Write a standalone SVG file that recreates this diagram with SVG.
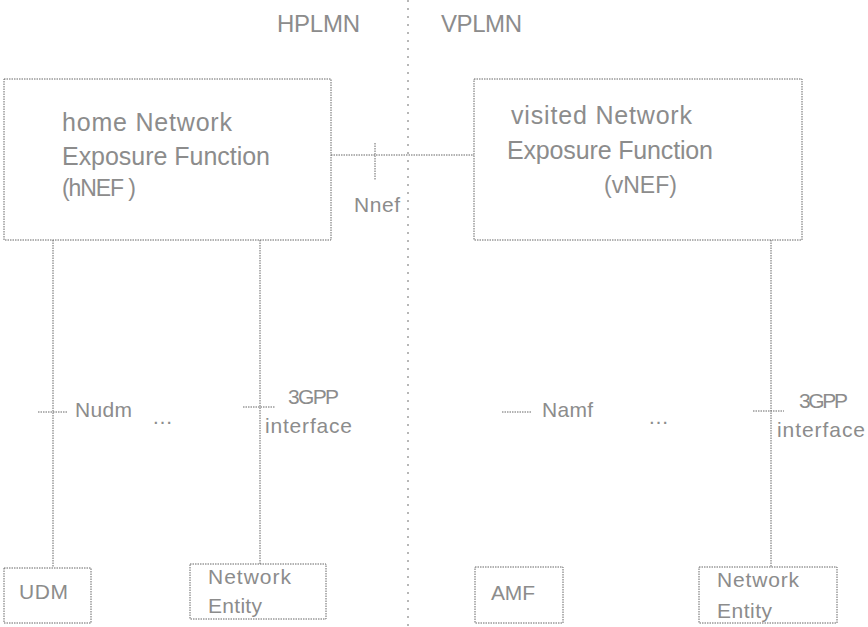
<svg xmlns="http://www.w3.org/2000/svg" width="868" height="627" viewBox="0 0 868 627">
<style>
.box{fill:#fff;stroke:#666;stroke-width:1;stroke-dasharray:1.5 1}
.ln{fill:none;stroke:#666;stroke-width:1;stroke-dasharray:1.5 1}
.div{fill:none;stroke:#888;stroke-width:1.2;stroke-dasharray:2 6}
.t{font-family:"Liberation Sans",Arial,sans-serif;fill:#8c8c8c}
.big{font-size:25px}
.par{font-size:23px}
.hd{font-size:24px}
.md{font-size:21px}
</style>
<rect width="868" height="627" fill="#fff"/>
<g id="labels-plmn">
<text class="t hd" x="277" y="32" textLength="83">HPLMN</text>
<text class="t hd" x="441" y="32" textLength="81">VPLMN</text>
</g>
<g id="connectors">
<line class="div" x1="408" y1="0" x2="408" y2="627"/>
<line class="ln" x1="331" y1="155" x2="474" y2="155"/>
<line class="ln" x1="375" y1="143" x2="375" y2="180"/>
<line class="ln" x1="53" y1="240" x2="53" y2="567"/>
<line class="ln" x1="38" y1="412" x2="68" y2="412"/>
<line class="ln" x1="260" y1="240" x2="260" y2="564"/>
<line class="ln" x1="243" y1="407" x2="275" y2="407"/>
<line class="ln" x1="502" y1="412" x2="532" y2="412"/>
<line class="ln" x1="771" y1="240" x2="771" y2="567"/>
<line class="ln" x1="753" y1="411" x2="784" y2="411"/>
<text class="t md" x="354" y="212" textLength="46">Nnef</text>
<text class="t md" x="75" y="417" textLength="57">Nudm</text>
<text class="t md" x="152" y="424" textLength="21">…</text>
<text class="t md" x="288" y="404" textLength="51">3GPP</text>
<text class="t md" x="265" y="433" textLength="87">interface</text>
<text class="t md" x="542" y="417" textLength="51">Namf</text>
<text class="t md" x="648" y="424" textLength="20">…</text>
<text class="t md" x="799" y="408" textLength="49">3GPP</text>
<text class="t md" x="777" y="437" textLength="88">interface</text>
</g>
<g id="hNEF">
<rect class="box" x="4" y="79" width="327" height="161"/>
<text class="t big" x="62" y="131" textLength="170">home Network</text>
<text class="t big" x="62" y="165" textLength="208">Exposure Function</text>
<text class="t par" x="62" y="196" textLength="74">(hNEF )</text>
</g>
<g id="vNEF">
<rect class="box" x="474" y="79" width="328" height="161"/>
<text class="t big" x="511" y="124" textLength="181">visited Network</text>
<text class="t big" x="507" y="159" textLength="206">Exposure Function</text>
<text class="t par" x="604" y="193" textLength="73">(vNEF)</text>
</g>
<g id="UDM">
<rect class="box" x="4" y="568" width="87" height="55"/>
<text class="t md" x="19" y="599" textLength="49">UDM</text>
</g>
<g id="NE-left">
<rect class="box" x="190" y="564" width="136" height="55"/>
<text class="t md" x="208" y="584" textLength="83">Network</text>
<text class="t md" x="208" y="613" textLength="54">Entity</text>
</g>
<g id="AMF">
<rect class="box" x="475" y="567" width="88" height="56"/>
<text class="t md" x="491" y="600" textLength="44">AMF</text>
</g>
<g id="NE-right">
<rect class="box" x="699" y="567" width="138" height="56"/>
<text class="t md" x="717" y="587" textLength="82">Network</text>
<text class="t md" x="717" y="618" textLength="55">Entity</text>
</g>
</svg>
